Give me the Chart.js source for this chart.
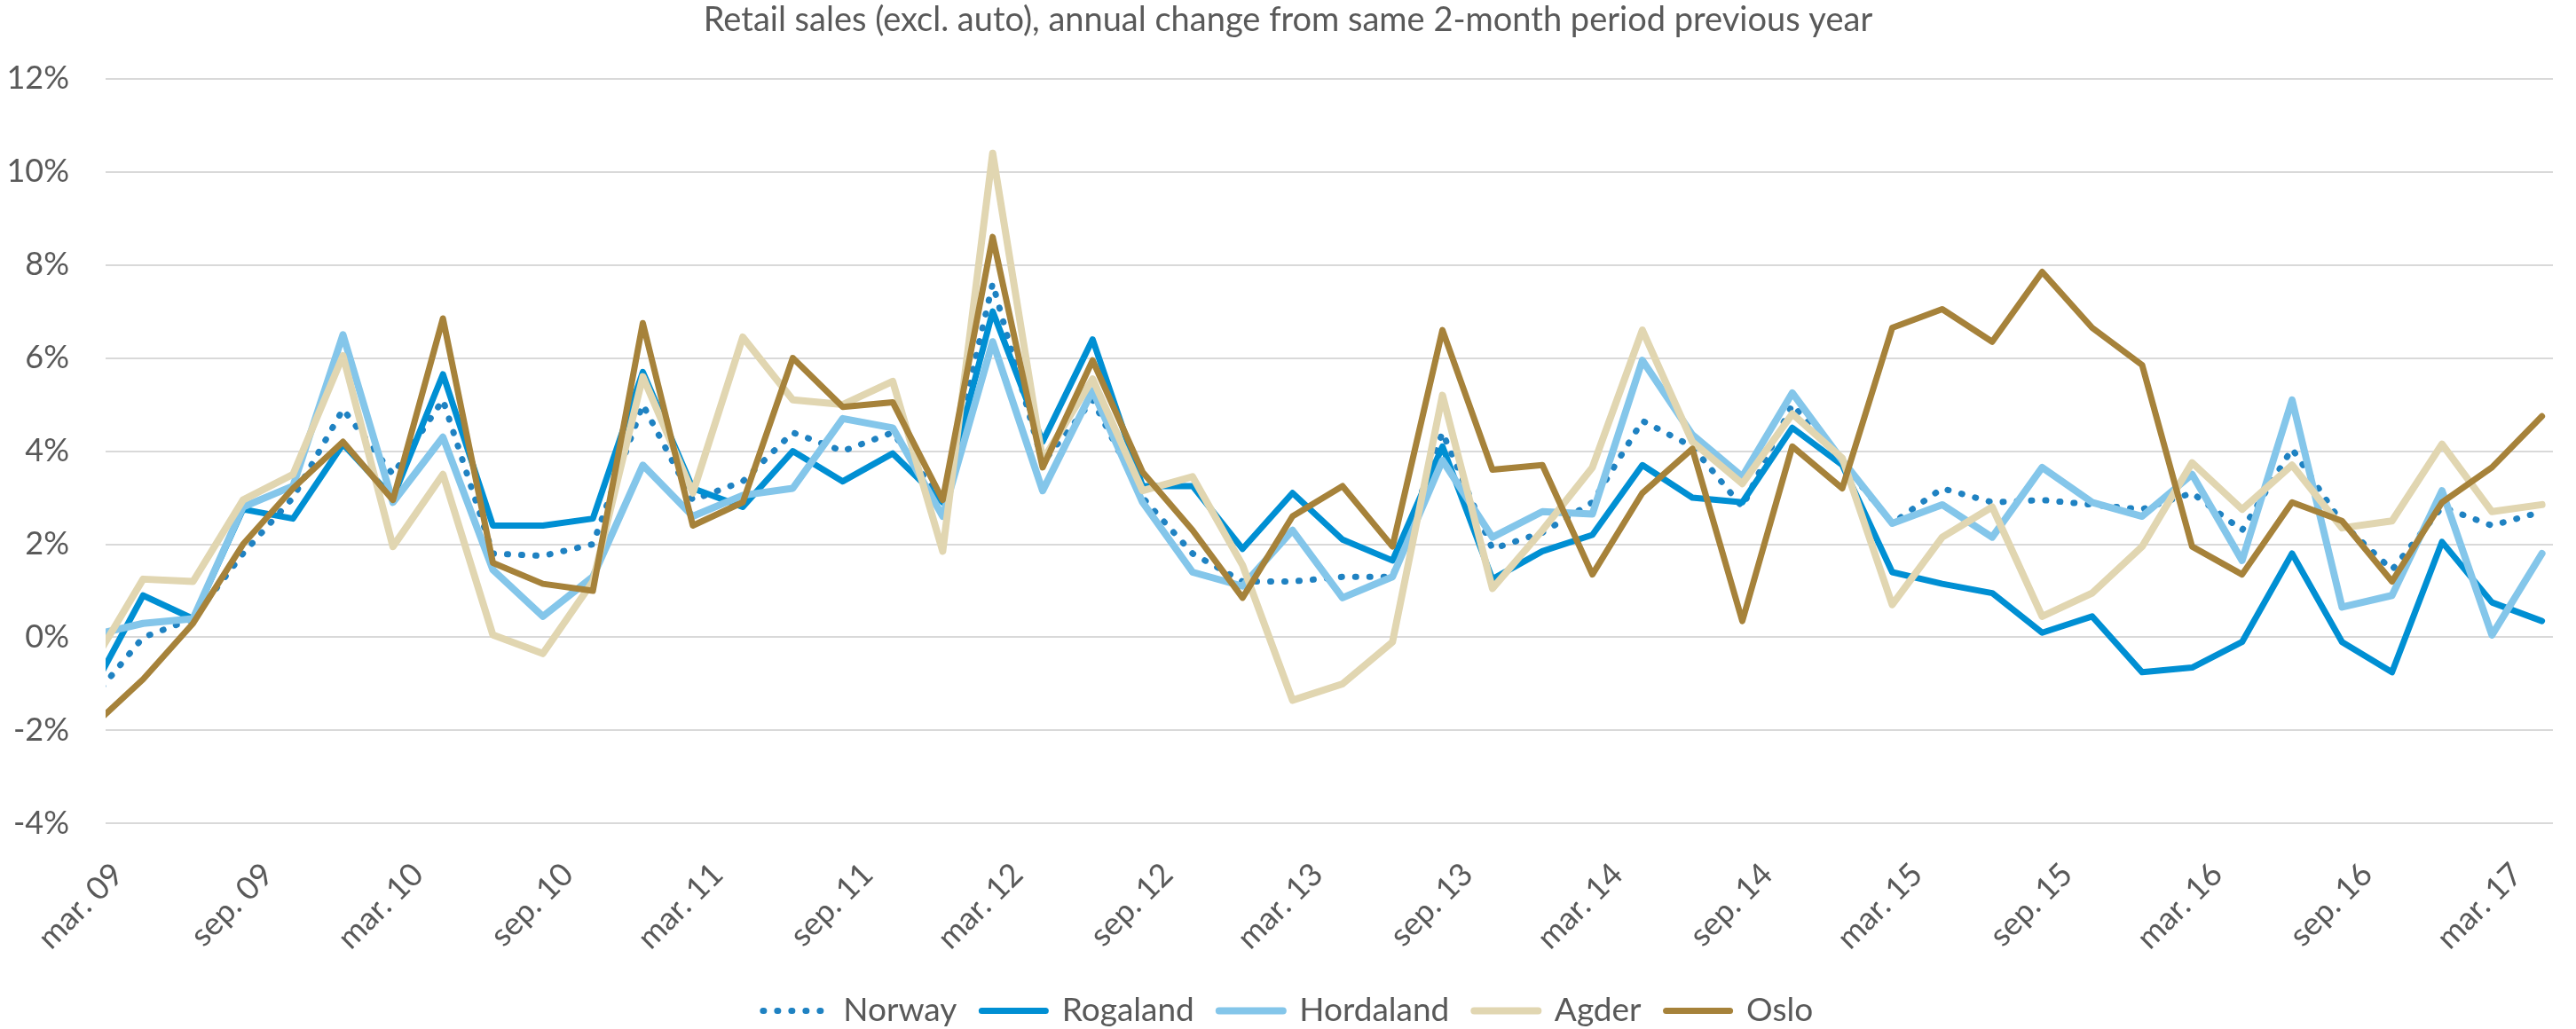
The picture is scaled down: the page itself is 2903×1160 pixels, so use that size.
<!DOCTYPE html>
<html>
<head>
<meta charset="utf-8">
<title>Retail sales (excl. auto)</title>
<script src="https://cdn.jsdelivr.net/npm/chart.js@4/dist/chart.umd.min.js"></script>
<style>
  html, body { margin: 0; padding: 0; background: #ffffff; }
  #wrap { width: 2903px; height: 1160px; position: relative; }
</style>
</head>
<body>
<div id="wrap"><canvas id="salesChart"></canvas></div>
<script>
// two-month periods, jan-feb 09 ... mar-apr 17
const periods = [
  'jan-feb 09', 'mar-apr 09', 'mai-jun 09', 'jul-aug 09', 'sep-okt 09', 'nov-des 09',
  'jan-feb 10', 'mar-apr 10', 'mai-jun 10', 'jul-aug 10', 'sep-okt 10', 'nov-des 10',
  'jan-feb 11', 'mar-apr 11', 'mai-jun 11', 'jul-aug 11', 'sep-okt 11', 'nov-des 11',
  'jan-feb 12', 'mar-apr 12', 'mai-jun 12', 'jul-aug 12', 'sep-okt 12', 'nov-des 12',
  'jan-feb 13', 'mar-apr 13', 'mai-jun 13', 'jul-aug 13', 'sep-okt 13', 'nov-des 13',
  'jan-feb 14', 'mar-apr 14', 'mai-jun 14', 'jul-aug 14', 'sep-okt 14', 'nov-des 14',
  'jan-feb 15', 'mar-apr 15', 'mai-jun 15', 'jul-aug 15', 'sep-okt 15', 'nov-des 15',
  'jan-feb 16', 'mar-apr 16', 'mai-jun 16', 'jul-aug 16', 'sep-okt 16', 'nov-des 16',
  'jan-feb 17', 'mar-apr 17'
];

const tickLabels = ['mar. 09', 'sep. 09', 'mar. 10', 'sep. 10', 'mar. 11', 'sep. 11',
  'mar. 12', 'sep. 12', 'mar. 13', 'sep. 13', 'mar. 14', 'sep. 14', 'mar. 15',
  'sep. 15', 'mar. 16', 'sep. 16', 'mar. 17'];

// annual change, %
const norway = [-1.3, 0.0, 0.4, 1.8, 3.0, 4.9, 3.5, 5.1, 1.8, 1.75, 2.0, 5.0, 2.95, 3.35, 4.4, 4.0, 4.4, 2.9,
  7.6, 3.75, 5.1, 3.0, 1.8, 1.2, 1.2, 1.3, 1.3, 4.4, 1.9, 2.25, 2.9, 4.65, 4.1, 2.8, 5.0, 3.75,
  2.45, 3.2, 2.9, 2.95, 2.85, 2.75, 3.1, 2.3, 4.05, 2.45, 1.45, 2.8, 2.4, 2.7];
const rogaland = [-1.1, 0.9, 0.4, 2.75, 2.55, 4.15, 3.0, 5.65, 2.4, 2.4, 2.55, 5.7, 3.2, 2.8, 4.0, 3.35, 3.95, 2.9,
  7.0, 4.2, 6.4, 3.25, 3.25, 1.9, 3.1, 2.1, 1.65, 4.1, 1.25, 1.85, 2.2, 3.7, 3.0, 2.9, 4.5, 3.7,
  1.4, 1.15, 0.95, 0.1, 0.45, -0.75, -0.65, -0.1, 1.8, -0.1, -0.75, 2.05, 0.75, 0.35];
const hordaland = [0.05, 0.3, 0.4, 2.8, 3.25, 6.5, 2.9, 4.3, 1.45, 0.45, 1.3, 3.7, 2.6, 3.05, 3.2, 4.7, 4.5, 2.6,
  6.35, 3.15, 5.3, 2.9, 1.4, 1.1, 2.3, 0.85, 1.3, 3.8, 2.15, 2.7, 2.65, 5.95, 4.35, 3.45, 5.25, 3.8,
  2.45, 2.85, 2.15, 3.65, 2.9, 2.6, 3.5, 1.65, 5.1, 0.65, 0.9, 3.15, 0.05, 1.8];
const agder = [-0.55, 1.25, 1.2, 2.95, 3.5, 6.05, 1.95, 3.5, 0.05, -0.35, 1.2, 5.6, 3.1, 6.45, 5.1, 5.0, 5.5, 1.85,
  10.4, 3.8, 5.55, 3.15, 3.45, 1.55, -1.35, -1.0, -0.1, 5.2, 1.05, 2.3, 3.65, 6.6, 4.2, 3.3, 4.8, 3.85,
  0.7, 2.15, 2.8, 0.45, 0.95, 1.95, 3.75, 2.75, 3.7, 2.35, 2.5, 4.15, 2.7, 2.85];
const oslo = [-1.9, -0.9, 0.3, 2.0, 3.2, 4.2, 2.95, 6.85, 1.6, 1.15, 1.0, 6.75, 2.4, 2.9, 6.0, 4.95, 5.05, 2.95,
  8.6, 3.65, 5.95, 3.55, 2.3, 0.85, 2.6, 3.25, 1.95, 6.6, 3.6, 3.7, 1.35, 3.1, 4.05, 0.35, 4.1, 3.2,
  6.65, 7.05, 6.35, 7.85, 6.65, 5.85, 1.95, 1.35, 2.9, 2.5, 1.2, 2.9, 3.65, 4.75];

const FONT = 'Lato, "Open Sans", sans-serif';
const TEXT = '#595959';

// ticks sit on the month boundary between two periods
const tickPos = tickLabels.map((_, k) => 0.5 + 3 * k);

function lineSeries(label, values, color, width, dash, order) {
  return {
    label: label,
    data: values.map((v, i) => ({ x: i, y: v })),
    borderColor: color,
    backgroundColor: color,
    borderWidth: width,
    borderDash: dash,
    borderCapStyle: 'round',
    borderJoinStyle: 'round',
    pointRadius: 0,
    pointHoverRadius: 0,
    pointStyle: 'line',
    tension: 0,
    order: order
  };
}

Chart.defaults.font.family = FONT;
Chart.defaults.color = TEXT;

const ctx = document.getElementById('salesChart');
new Chart(ctx, {
  type: 'line',
  data: {
    datasets: [
      lineSeries('Norway', norway, '#1F82C2', 7, [1, 15], 4),
      lineSeries('Rogaland', rogaland, '#008FD3', 7, [], 3),
      lineSeries('Hordaland', hordaland, '#84C6EA', 8, [], 2),
      lineSeries('Agder', agder, '#E1D6B1', 8, [], 1),
      lineSeries('Oslo', oslo, '#A6823A', 7, [], 0)
    ]
  },
  options: {
    responsive: true,
    maintainAspectRatio: false,
    devicePixelRatio: 1,
    animation: false,
    layout: { padding: { left: 0, right: 0, top: 0, bottom: -8 } },
    plugins: {
      title: {
        display: true,
        text: 'Retail sales (excl. auto), annual change from same 2-month period previous year',
        color: TEXT,
        font: { size: 38, weight: 'normal' },
        padding: { top: 0, bottom: 43.1 }
      },
      legend: {
        position: 'bottom',
        labels: {
          usePointStyle: true,
          pointStyleWidth: 72,
          color: TEXT,
          font: { size: 37 },
          padding: 28,
          sort: (a, b) => a.datasetIndex - b.datasetIndex,
          // point style legend ignores the dash of the line, put it back
          generateLabels: chart => {
            const items = Chart.defaults.plugins.legend.labels.generateLabels(chart);
            items.forEach(item => {
              const ds = chart.data.datasets[item.datasetIndex];
              item.lineDash = ds.borderDash;
              item.lineCap = 'round';
              item.lineWidth = ds.borderWidth;
            });
            return items;
          }
        }
      },
      tooltip: {
        callbacks: { title: items => periods[items[0].parsed.x] }
      }
    },
    scales: {
      x: {
        type: 'linear',
        min: 0.25,
        max: 49.22,
        grid: { display: false, drawTicks: false },
        border: { display: false },
        ticks: {
          autoSkip: false,
          maxRotation: 45,
          minRotation: 45,
          padding: 36,
          font: { size: 36 },
          callback: (v, idx) => tickLabels[idx]
        },
        afterBuildTicks: s => { s.ticks = tickPos.map(v => ({ value: v })); },
        afterFit: s => { s.height = 164.6; }
      },
      y: {
        min: -4,
        max: 12,
        grid: { color: '#D9D9D9', lineWidth: 2, drawTicks: false },
        border: { display: false },
        ticks: {
          stepSize: 2,
          padding: 41,
          font: { size: 36 },
          callback: v => v + '%'
        },
        afterFit: s => { s.width = 119; }
      }
    }
  }
});
</script>
</body>
</html>
